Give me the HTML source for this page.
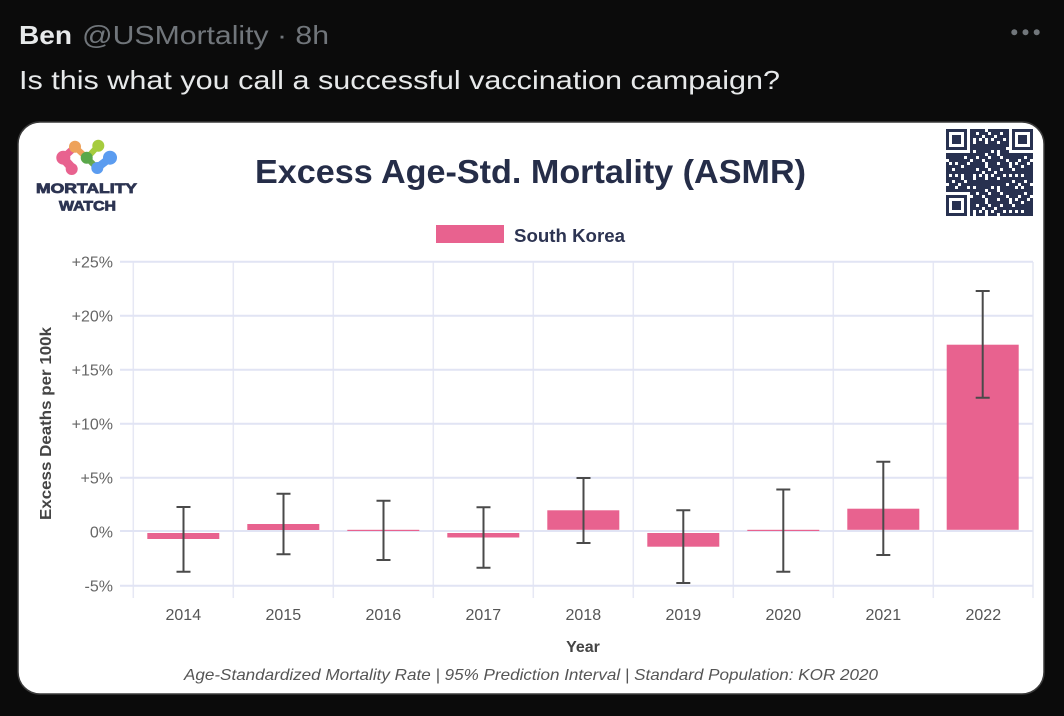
<!DOCTYPE html>
<html><head><meta charset="utf-8"><style>
html,body{margin:0;padding:0;background:#0b0b0b;}
svg{display:block;}
</style></head><body>
<svg width="1064" height="716" viewBox="0 0 1064 716" xmlns="http://www.w3.org/2000/svg" font-family="Liberation Sans, Arial, sans-serif">
<defs>
<pattern id="qr" x="946" y="129" width="12" height="12" patternUnits="userSpaceOnUse">
<rect x="0" y="0" width="3" height="6" fill="#283150"/>
<rect x="6" y="0" width="6" height="3" fill="#283150"/>
<rect x="3" y="6" width="6" height="3" fill="#283150"/>
<rect x="9" y="3" width="3" height="6" fill="#283150"/>
<rect x="0" y="9" width="3" height="3" fill="#283150"/>
<rect x="6" y="9" width="3" height="3" fill="#283150"/>
<rect x="3" y="3" width="3" height="3" fill="#283150"/>
</pattern>
<pattern id="qr2" x="949" y="132" width="15" height="9" patternUnits="userSpaceOnUse">
<rect x="0" y="0" width="3" height="3" fill="#283150"/>
<rect x="9" y="3" width="6" height="3" fill="#283150"/>
<rect x="3" y="6" width="3" height="3" fill="#283150"/>
</pattern>
<pattern id="qr3" x="946" y="135" width="21" height="18" patternUnits="userSpaceOnUse">
<rect x="0" y="0" width="6" height="3" fill="#283150"/>
<rect x="12" y="6" width="3" height="6" fill="#283150"/>
<rect x="3" y="12" width="6" height="3" fill="#283150"/>
<rect x="15" y="15" width="6" height="3" fill="#283150"/>
</pattern>
</defs>
<rect width="1064" height="716" fill="#0b0b0b"/>
<!-- tweet header -->
<text x="19" y="44" font-size="26" font-weight="bold" fill="#e7e9ea" textLength="53" lengthAdjust="spacingAndGlyphs">Ben</text>
<text x="82" y="44" font-size="26" fill="#71767b" textLength="247" lengthAdjust="spacingAndGlyphs">@USMortality · 8h</text>
<text x="19" y="89" font-size="26" fill="#e7e9ea" textLength="761" lengthAdjust="spacingAndGlyphs">Is this what you call a successful vaccination campaign?</text>
<circle cx="1014.3" cy="32.3" r="3" fill="#71767b"/>
<circle cx="1025.5" cy="32.3" r="3" fill="#71767b"/>
<circle cx="1036.7" cy="32.3" r="3" fill="#71767b"/>
<!-- card -->
<rect x="18" y="122" width="1026" height="572" rx="22" ry="22" fill="#ffffff" stroke="#3a3a3a" stroke-width="1.5"/>
<!-- logo -->
<g stroke-linecap="round">
<line x1="63" y1="158" x2="75" y2="147" stroke="#e8628f" stroke-width="7"/>
<line x1="63" y1="158" x2="72" y2="168" stroke="#e8628f" stroke-width="9"/>
<line x1="75" y1="147" x2="87" y2="158" stroke="#eea25a" stroke-width="6"/>
<line x1="87" y1="158" x2="98" y2="146" stroke="#a6cc3e" stroke-width="6"/>
<line x1="87" y1="158" x2="97" y2="168" stroke="#6aa84f" stroke-width="6"/>
<line x1="97" y1="168" x2="110" y2="158" stroke="#5b9cf0" stroke-width="8"/>
</g>
<circle cx="75" cy="146.7" r="6" fill="#eea25a"/>
<circle cx="98.3" cy="145.7" r="6" fill="#a6cc3e"/>
<circle cx="63.3" cy="157.7" r="7" fill="#e8628f"/>
<circle cx="71.7" cy="169" r="6" fill="#e8628f"/>
<circle cx="86.7" cy="157.7" r="6" fill="#5aa84a"/>
<circle cx="110" cy="157.7" r="7" fill="#5b9cf0"/>
<circle cx="97.3" cy="168" r="6" fill="#5b9cf0"/>
<text x="36" y="193" font-size="14" font-weight="bold" fill="#2d3452" stroke="#2d3452" stroke-width="0.8" textLength="101" lengthAdjust="spacingAndGlyphs">MORTALITY</text>
<text x="59" y="210.5" font-size="14" font-weight="bold" fill="#2d3452" stroke="#2d3452" stroke-width="0.8" textLength="57" lengthAdjust="spacingAndGlyphs">WATCH</text>
<!-- QR -->
<rect x="946" y="129" width="87" height="87" fill="url(#qr)"/>
<rect x="946" y="129" width="87" height="87" fill="url(#qr2)"/>
<rect x="946" y="129" width="87" height="87" fill="url(#qr3)"/>
<g fill="#ffffff">
<rect x="946" y="129" width="24" height="24"/>
<rect x="1009" y="129" width="24" height="24"/>
<rect x="946" y="192" width="24" height="24"/>
</g>
<g fill="none" stroke="#283150" stroke-width="3">
<rect x="947.5" y="130.5" width="18" height="18"/>
<rect x="1013.5" y="130.5" width="18" height="18"/>
<rect x="947.5" y="196.5" width="18" height="18"/>
</g>
<g fill="#283150">
<rect x="952" y="135" width="9" height="9"/>
<rect x="1018" y="135" width="9" height="9"/>
<rect x="952" y="201" width="9" height="9"/>
</g>
<!-- title -->
<text x="255" y="183" font-size="33" font-weight="bold" fill="#252d48" textLength="551" lengthAdjust="spacingAndGlyphs">Excess Age-Std. Mortality (ASMR)</text>
<!-- legend -->
<rect x="436" y="225" width="68" height="18" fill="#e8628f"/>
<text x="514" y="242" font-size="18" font-weight="bold" fill="#2d3452" textLength="111" lengthAdjust="spacingAndGlyphs">South Korea</text>
<!-- grid vertical -->
<g stroke="#e6e8f4" stroke-width="1.5">
<line x1="133.3" y1="262" x2="133.3" y2="598"/>
<line x1="233.3" y1="262" x2="233.3" y2="598"/>
<line x1="333.3" y1="262" x2="333.3" y2="598"/>
<line x1="433.3" y1="262" x2="433.3" y2="598"/>
<line x1="533.3" y1="262" x2="533.3" y2="598"/>
<line x1="633.3" y1="262" x2="633.3" y2="598"/>
<line x1="733.3" y1="262" x2="733.3" y2="598"/>
<line x1="833.3" y1="262" x2="833.3" y2="598"/>
<line x1="933.3" y1="262" x2="933.3" y2="598"/>
<line x1="1033" y1="262" x2="1033" y2="598"/>
</g>
<!-- grid horizontal -->
<g stroke="#e1e4f4" stroke-width="2">
<line x1="120" y1="261.7" x2="1033" y2="261.7"/>
<line x1="120" y1="315.7" x2="1033" y2="315.7"/>
<line x1="120" y1="369.7" x2="1033" y2="369.7"/>
<line x1="120" y1="423.7" x2="1033" y2="423.7"/>
<line x1="120" y1="477.7" x2="1033" y2="477.7"/>
<line x1="120" y1="531" x2="1033" y2="531"/>
<line x1="120" y1="585.7" x2="1033" y2="585.7"/>
</g>
<!-- y labels -->
<g font-size="16" fill="#666" text-anchor="end">
<text x="113" y="267.5">+25%</text>
<text x="113" y="321.5">+20%</text>
<text x="113" y="375.5">+15%</text>
<text x="113" y="429.5">+10%</text>
<text x="113" y="483.5">+5%</text>
<text x="113" y="537.5">0%</text>
<text x="113" y="591.5">-5%</text>
</g>
<text transform="translate(51,423.5) rotate(-90)" font-size="16" font-weight="bold" fill="#444" text-anchor="middle" textLength="193" lengthAdjust="spacingAndGlyphs">Excess Deaths per 100k</text>
<!-- bars -->
<g fill="#e8628f">
<rect x="147.3" y="533" width="72" height="6"/>
<rect x="247.3" y="524" width="72" height="6"/>
<rect x="347.3" y="529.8" width="72" height="1.2"/>
<rect x="447.3" y="533" width="72" height="4.5"/>
<rect x="547.3" y="510.3" width="72" height="19.5"/>
<rect x="647.3" y="533" width="72" height="13.7"/>
<rect x="747.3" y="529.8" width="72" height="1.2"/>
<rect x="847.3" y="508.7" width="72" height="21.1"/>
<rect x="946.7" y="344.7" width="72" height="185.1"/>
</g>
<!-- error bars -->
<g stroke="#4a4a4a" stroke-width="2" fill="none">
<path d="M183.5 507V571.7M176.5 507H190.5M176.5 571.7H190.5"/>
<path d="M283.5 493.7V554.3M276.5 493.7H290.5M276.5 554.3H290.5"/>
<path d="M383.5 500.7V560M376.5 500.7H390.5M376.5 560H390.5"/>
<path d="M483.5 507.3V567.7M476.5 507.3H490.5M476.5 567.7H490.5"/>
<path d="M583.5 478V543M576.5 478H590.5M576.5 543H590.5"/>
<path d="M683.3 510.3V583M676.3 510.3H690.3M676.3 583H690.3"/>
<path d="M783.3 489.5V571.7M776.3 489.5H790.3M776.3 571.7H790.3"/>
<path d="M883.3 461.7V555M876.3 461.7H890.3M876.3 555H890.3"/>
<path d="M982.7 291V397.7M975.7 291H989.7M975.7 397.7H989.7"/>
</g>
<!-- x labels -->
<g font-size="16" fill="#555" text-anchor="middle">
<text x="183.3" y="620">2014</text>
<text x="283.3" y="620">2015</text>
<text x="383.3" y="620">2016</text>
<text x="483.3" y="620">2017</text>
<text x="583.3" y="620">2018</text>
<text x="683.3" y="620">2019</text>
<text x="783.3" y="620">2020</text>
<text x="883.3" y="620">2021</text>
<text x="983.3" y="620">2022</text>
</g>
<text x="583" y="652" font-size="16" font-weight="bold" fill="#444" text-anchor="middle">Year</text>
<text x="184" y="680" font-size="16" font-style="italic" fill="#555" textLength="694" lengthAdjust="spacingAndGlyphs">Age-Standardized Mortality Rate | 95% Prediction Interval | Standard Population: KOR 2020</text>
</svg>
</body></html>
